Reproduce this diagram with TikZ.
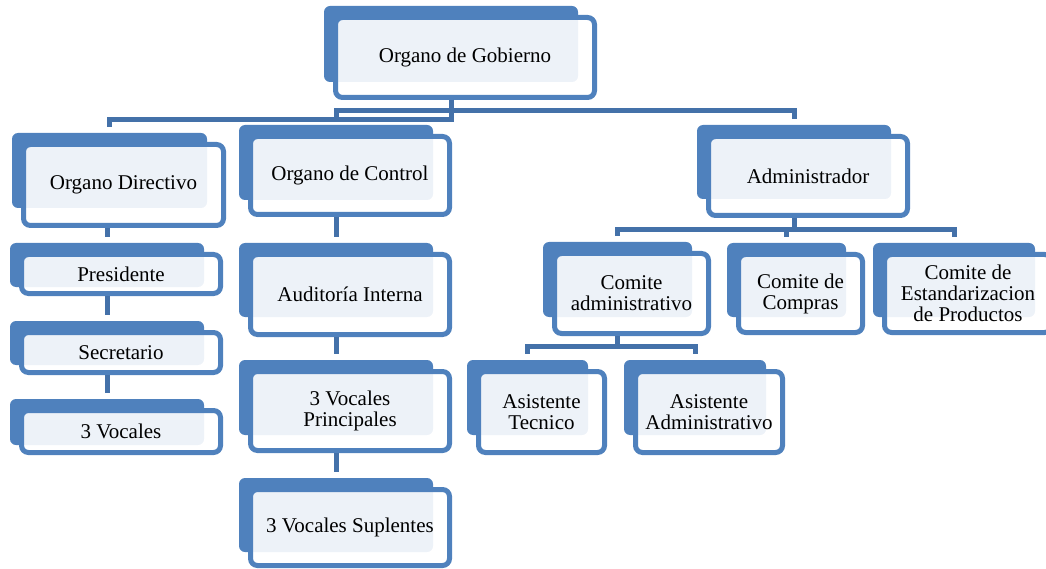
\documentclass[tikz,border=0pt]{standalone}
\usepackage{fontspec}
\setmainfont{Liberation Serif}
\definecolor{boxblue}{HTML}{4F81BD}
\definecolor{connblue}{HTML}{4471A9}
\tikzset{
  backc/.style={fill=boxblue, rounded corners=6pt, inner sep=0pt, outer sep=0pt},
  frontc/.style={draw=boxblue, line width=5pt, rounded corners=7pt, fill=white,
    fill opacity=0.9, text opacity=1, align=center, inner sep=0pt,
    font=\fontsize{21}{21}\selectfont},
  conn/.style={draw=connblue, line width=5pt},
}
% name, x1, y1, x2, y2 (outer edges of front box, px, y down), bottom offset of back, text
\newcommand\obox[7]{%
  \node[backc, minimum width={#4-#2-10}, minimum height={#5-#3-#6+9}]
    (#1b) at ({(#2+#4-28)/2},{(#3-9+#5-#6)/2}) {};
  \node[frontc, minimum width={#4-#2-5}, minimum height={#5-#3-5}]
    (#1) at ({(#2+#4)/2},{(#3+#5)/2}) {#7};
}
\begin{document}
\begin{tikzpicture}[x=1pt,y=-1pt]
\useasboundingbox (0,0) rectangle (1046,569);

\obox{gob}{333}{15}{597}{100}{18}{Organo de Gobierno}
\obox{dir}{21}{142}{226}{228}{20}{Organo Directivo}
\obox{ctl}{248}{134}{452}{217}{17}{Organo de Control}
\obox{adm}{706}{134}{910}{218}{19}{Administrador}
\obox{pre}{19}{252}{223}{296}{9}{Presidente}
\obox{sec}{19}{330}{223}{375}{10}{Secretario}
\obox{voc}{19}{408}{223}{455}{10}{3 Vocales}
\obox{aud}{248}{252}{452}{337}{20}{Auditoría Interna}
\obox{vp}{248}{369}{452}{453}{18}{3 Vocales\\Principales}
\obox{vs}{248}{487}{452}{568}{16}{3 Vocales Suplentes}
\obox{cad}{552}{251}{711}{336}{19}{Comite\\administrativo}
\obox{cco}{736}{252}{865}{335}{18}{Comite de\\Compras}
\obox{ces}{882}{252}{1054}{335}{18}{Comite de\\Estandarizacion\\de Productos}
\obox{ate}{476}{369}{607}{455}{20}{Asistente\\Tecnico}
\obox{aad}{633}{369}{785}{455}{20}{Asistente\\Administrativo}

% Organo de Gobierno
\draw[conn] (gobb |- gob.south) -- (gobb |- 0,119.5) -| ([yshift=6pt]dirb.north);
\draw[conn] (gobb |- gob.south) -- (gobb |- 0,110.5) -| ([yshift=6pt]ctlb.north);
\draw[conn] (gobb |- 0,110.5) -| ([yshift=6pt]admb.north);
% Organo Directivo
\draw[conn] (preb |- dir.south) -- ([yshift=6pt]preb.north);
\draw[conn] (secb |- pre.south) -- ([yshift=6pt]secb.north);
\draw[conn] (vocb |- sec.south) -- ([yshift=6pt]vocb.north);
% Organo de Control
\draw[conn] (audb |- ctl.south) -- ([yshift=6pt]audb.north);
\draw[conn] (vpb |- aud.south) -- ([yshift=6pt]vpb.north);
\draw[conn] (vsb |- vp.south) -- ([yshift=6pt]vsb.north);
% Administrador
\draw[conn] (admb |- adm.south) -- (admb |- 0,229.5) -| ([yshift=6pt]cadb.north);
\draw[conn] (admb |- 0,229.5) -| ([yshift=6pt]ccob.north);
\draw[conn] (admb |- 0,229.5) -| ([yshift=6pt]cesb.north);
% Comite administrativo
\draw[conn] (cadb |- cad.south) -- (cadb |- 0,346.5) -| ([yshift=6pt]ateb.north);
\draw[conn] (cadb |- 0,346.5) -| ([yshift=6pt]aadb.north);
\end{tikzpicture}
\end{document}
